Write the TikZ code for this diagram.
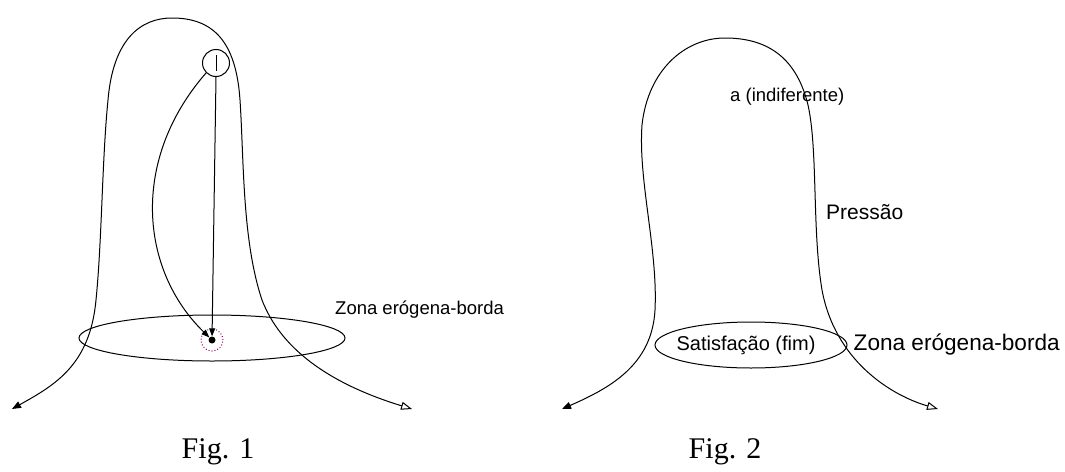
\documentclass[tikz,border=0pt]{standalone}
\usepackage{fontspec}
\setmainfont{Liberation Serif}
\setsansfont{Liberation Sans}
\usetikzlibrary{arrows.meta, shapes.geometric, positioning}

\begin{document}
\begin{tikzpicture}[
    x=1pt, y=-1pt,
    txt/.style={font=\sffamily\fontsize{#1}{#1}\selectfont, inner sep=0pt},
    caption/.style={font=\fontsize{30}{36}\selectfont, inner sep=0pt},
    bell/.style={line width=1pt, {Triangle[length=9pt,width=7pt]}-{Triangle[open,length=11pt,width=8pt]}},
    rim/.style={ellipse, draw, line width=1pt, inner sep=0pt},
    arrow/.style={line width=1pt, -{Triangle[length=8pt,width=6pt]}}
]
\useasboundingbox (0,0) rectangle (1065,471);

% Fig. 1
\coordinate (l1) at (12,409);
\coordinate (r1) at (412,409);
\draw [bell] (l1) .. controls (55,385) and (90,365) .. (96,300)
    .. controls (102,240) and (102,160) .. (108,100)
    .. controls (113,40) and (140,18) .. (172,18)
    .. controls (212,18) and (236,40) .. (240,100)
    .. controls (244,160) and (242,240) .. (262,300)
    .. controls (285,360) and (350,390) .. (r1);
\node (rim1) [rim, minimum width=266pt, minimum height=46pt] at (212,338) {};
\node (src) [circle, draw, line width=1pt, minimum size=27pt, inner sep=0pt] at (216,63) {};
\draw [line width=1pt] (src.center) ++(0,-8) -- ++(0,16);
\node (zone) [circle, draw=red!60!blue, dotted, line width=1pt, minimum size=22pt, inner sep=0pt] at (212,340) {};
\node (tip) [circle, fill=black, minimum size=7pt, inner sep=0pt] at (212,340) {};
\draw [arrow] (src.south) -- (tip);
\draw [arrow] (src.south west) .. controls (130,160) and (140,270) .. (tip);
\node (zona1) [txt=18.5, anchor=west] at (335,310) {Zona erógena-borda};
\node (fig1) [caption] at (218,452) {Fig. 1};

% Fig. 2
\coordinate (l2) at (562,409);
\coordinate (r2) at (938,409);
\draw [bell] (l2) .. controls (610,388) and (652,365) .. (655,310)
    .. controls (658,250) and (638,180) .. (642,125)
    .. controls (648,70) and (685,38) .. (725,38)
    .. controls (770,38) and (797,60) .. (808,105)
    .. controls (818,150) and (812,230) .. (822,290)
    .. controls (835,360) and (890,395) .. (r2);
\node (rim2) [rim, minimum width=192pt, minimum height=46pt] at (751,345) {};
\node (sat) [txt=20] at (746,345) {Satisfação (fim)};
\node (zona2) [txt=22.6, right=6pt of rim2] {Zona erógena-borda};
\node (indif) [txt=18.5, anchor=west] at (730,97) {a (indiferente)};
\node (press) [txt=21, anchor=west] at (826,212) {Pressão};
\node (fig2) [caption] at (725,452) {Fig. 2};

\end{tikzpicture}
\end{document}
